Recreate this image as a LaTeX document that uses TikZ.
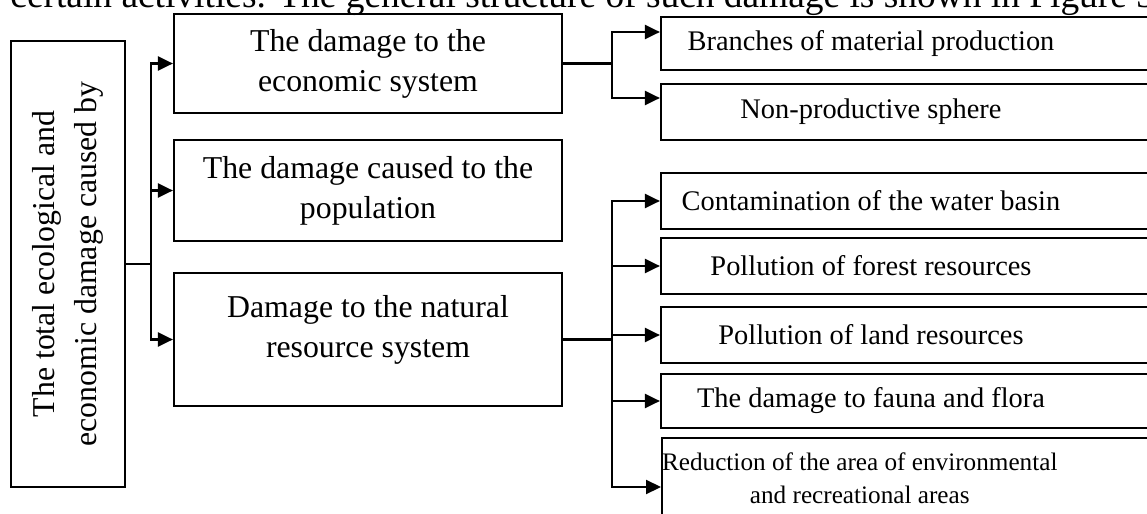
\documentclass[tikz,border=0pt]{standalone}
\usepackage{fontspec}
\setmainfont{Liberation Serif}
\usetikzlibrary{arrows.meta}

\tikzset{
    box/.style={draw, line width=1.1pt, align=center, inner sep=2pt},
    midbox/.style={box, minimum width=194pt, font=\fontsize{15.9}{20}\selectfont},
    sidebox/.style={box, minimum width=249.5pt, font=\fontsize{14.2}{20}\selectfont},
    link/.style={line width=1.1pt},
    arr/.style={link, -{Triangle[length=7.5pt,width=7pt]}}
}
\newcommand{\rpad}{\hspace*{39.5pt}}
\newcommand{\rpadwide}{\hspace*{60pt}}

\begin{document}
\begin{tikzpicture}[x=0.5pt, y=-0.5pt]
    \useasboundingbox (0,0) rectangle (1147,514);
    \clip (0,0) rectangle (1147,514);
    % line of the text above
    \node[anchor=base west, inner sep=0pt, font=\fontsize{18.7}{22}\selectfont] (cap) at (10,7) {certain activities. The general structure of such damage is shown in Figure 3};
    % left box
    \node[box, rotate=90, minimum width=223pt, minimum height=57pt, font=\fontsize{15.9}{21}\selectfont] (tot) at (68,264) {The total ecological and\\economic damage caused by};
    % middle column
    \node[midbox, minimum height=49.5pt] (eco) at (368,63.5) {The damage to the\\economic system};
    \node[midbox, minimum height=50.5pt] (pop) at (368,190.5) {The damage caused to the\\population};
    \node[midbox, minimum height=66.5pt] (nat) at (368,339.5) {Damage to the natural\\resource system\\[-7pt]\mbox{}};
    % right column
    \node[sidebox, minimum height=26.5pt] (mat) at (910.5,43.5) {Branches of material production\rpad};
    \node[sidebox, minimum height=28pt] (nonp) at (910.5,112) {Non-productive sphere\rpad};
    \node[sidebox, minimum height=28pt] (water) at (910.5,201) {Contamination of the water basin\rpad};
    \node[sidebox, minimum height=28pt] (forest) at (910.5,266) {Pollution of forest resources\rpad};
    \node[sidebox, minimum height=28pt] (land) at (910.5,335) {Pollution of land resources\rpad};
    \node[sidebox, minimum height=27pt] (fauna) at (910.5,401) {The damage to fauna and flora\rpad};
    \node[sidebox, anchor=west, inner xsep=0pt, minimum height=40pt, font=\fontsize{12.6}{16.5}\selectfont] (area) at (661,478) {Reduction of the area of environmental\rpadwide\\and recreational areas\rpadwide};

    \draw[link] (tot.south) -- ++(25,0) coordinate (j0);
    \foreach \t in {eco,pop,nat}
        \draw[arr] (j0) |- (\t.west);

    \draw[link] (eco.east) -- ++(49,0) coordinate (j1);
    \draw[arr] (j1) |- ([yshift=5.75pt]mat.west);
    \draw[arr] (j1) |- ([yshift=7pt]nonp.west);

    \draw[link] (nat.east) -- ++(49,0) coordinate (j2);
    \foreach \t in {water,forest,land,fauna}
        \draw[arr] (j2) |- (\t.west);
    \draw[arr] (j2) |- ([yshift=-4.5pt]area.west);
\end{tikzpicture}
\end{document}
